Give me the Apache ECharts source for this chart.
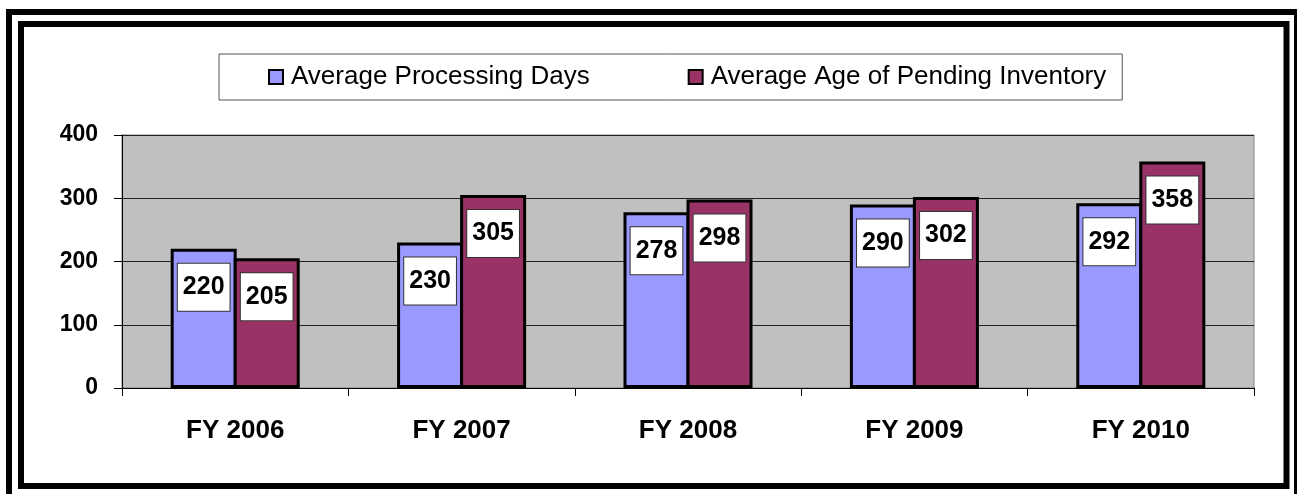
<!DOCTYPE html>
<html>
<head>
<meta charset="utf-8">
<script src="https://cdn.jsdelivr.net/npm/echarts@6/dist/echarts.min.js"></script>
<style>
  html, body { margin: 0; padding: 0; background: #fff; }
  #chart { width: 1297px; height: 494px; }
</style>
</head>
<body>
<div id="chart"></div>
<script>
const categories = ['FY 2006', 'FY 2007', 'FY 2008', 'FY 2009', 'FY 2010'];
const seriesNames = ['Average Processing Days', 'Average Age of Pending Inventory'];
const processingDays = [220, 230, 278, 290, 292];
const pendingAge = [205, 305, 298, 302, 358];
const yTicks = { min: 0, max: 400, interval: 100 };

const FONT = 'Arial, "Liberation Sans", sans-serif';

const labelStyle = {
  show: true,
  position: 'insideTop',
  distance: 15,
  color: '#000',
  fontFamily: FONT,
  fontWeight: 'bold',
  fontSize: 25,
  lineHeight: 25,
  backgroundColor: '#fff',
  borderColor: '#333',
  borderWidth: 1,
  padding: [11, 5, 11, 5]
};

const chart = echarts.init(document.getElementById('chart'), null, { renderer: 'canvas' });
chart.setOption({
  animation: false,
  backgroundColor: '#fff',
  graphic: [
    { type: 'rect', shape: { x: 9, y: 12, width: 1288, height: 485 },
      style: { fill: 'none', stroke: '#000', lineWidth: 6 }, z: 100 },
    { type: 'rect', shape: { x: 21, y: 24, width: 1265.5, height: 462 },
      style: { fill: 'none', stroke: '#000', lineWidth: 6 }, z: 100 }
  ],
  legend: {
    left: 219,
    top: 54,
    padding: [10, 16, 10, 49],
    itemGap: 98,
    itemWidth: 14,
    itemHeight: 14,
    icon: 'rect',
    backgroundColor: '#fff',
    borderColor: '#555',
    borderWidth: 1,
    itemStyle: { borderColor: '#000', borderWidth: 2 },
    textStyle: { fontFamily: FONT, fontSize: 26, color: '#000', padding: [0, 0, 0, 3] },
    data: seriesNames
  },
  grid: {
    left: 122, right: 43, top: 135, bottom: 106,
    show: true,
    backgroundColor: '#C0C0C0',
    borderColor: '#808080',
    borderWidth: 1
  },
  xAxis: {
    type: 'category',
    data: categories,
    axisLine: { lineStyle: { color: '#000', width: 1 } },
    axisTick: { show: true, length: 8, lineStyle: { color: '#000' } },
    axisLabel: { margin: 30, color: '#000', fontFamily: FONT, fontWeight: 'bold', fontSize: 26 }
  },
  yAxis: {
    type: 'value',
    min: yTicks.min, max: yTicks.max, interval: yTicks.interval,
    axisLine: { show: true, lineStyle: { color: '#000', width: 1 } },
    axisTick: { show: true, length: 8, lineStyle: { color: '#000' } },
    axisLabel: { margin: 24, color: '#000', fontFamily: FONT, fontWeight: 'bold', fontSize: 23 },
    splitLine: { show: true, lineStyle: { color: '#222', width: 1 } }
  },
  series: [
    {
      name: seriesNames[0], type: 'bar', data: processingDays,
      barWidth: 66, barGap: '-4.5%',
      itemStyle: { color: '#9999FF', borderColor: '#000', borderWidth: 3 },
      label: labelStyle
    },
    {
      name: seriesNames[1], type: 'bar', data: pendingAge,
      barWidth: 66, barGap: '-4.5%',
      itemStyle: { color: '#993366', borderColor: '#000', borderWidth: 3 },
      label: labelStyle
    }
  ]
});
</script>
</body>
</html>
